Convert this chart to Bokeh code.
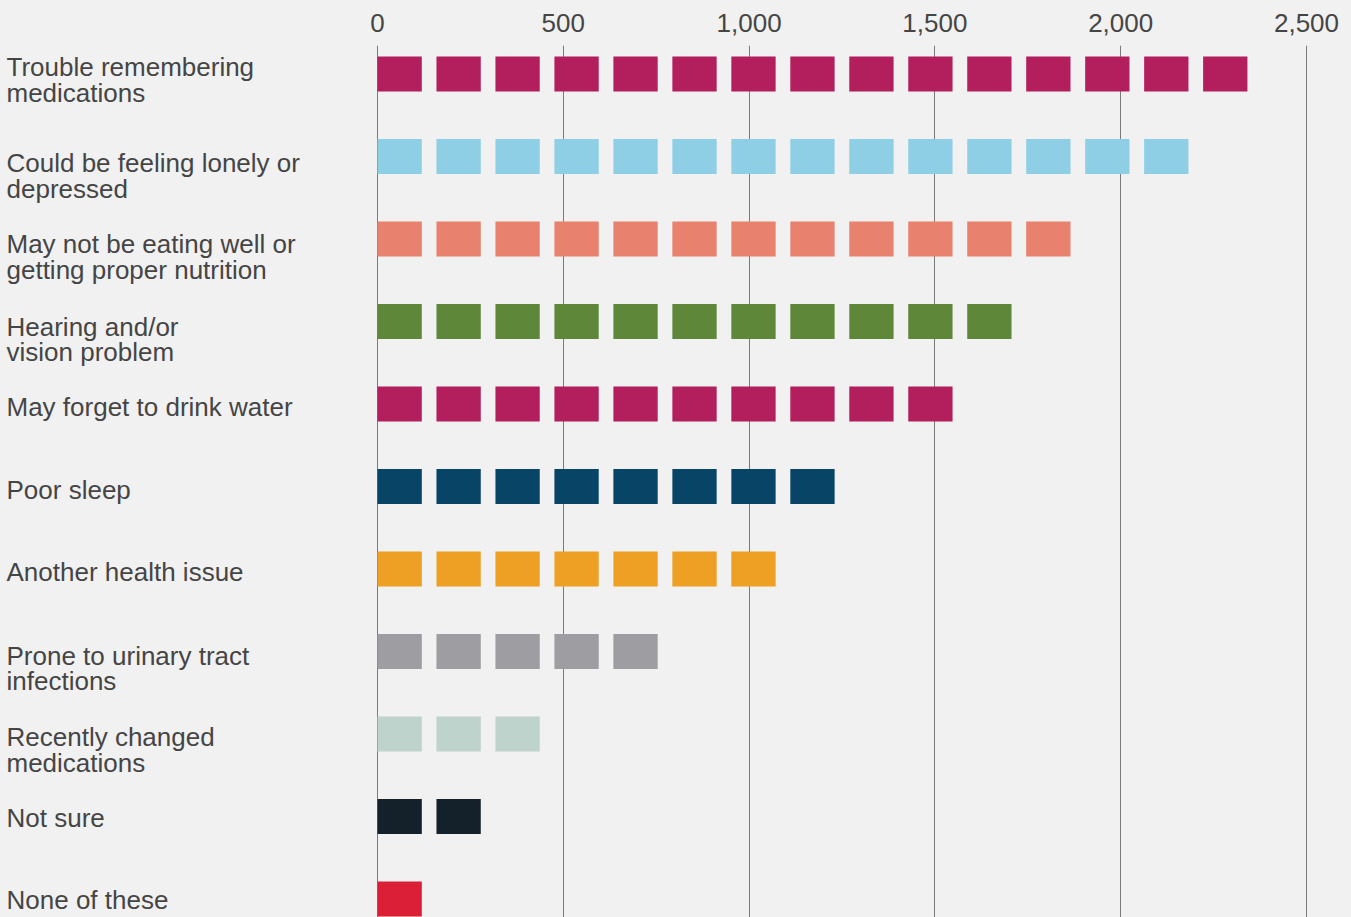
from bokeh.plotting import figure
from bokeh.models import Range1d, FixedTicker, NumeralTickFormatter, ColumnDataSource
from bokeh.core.properties import value
from bokeh.embed import file_html
from bokeh.resources import INLINE

# ---------------- data ----------------
categories = [
    "Trouble remembering medications",
    "Could be feeling lonely or depressed",
    "May not be eating well or getting proper nutrition",
    "Hearing and/or vision problem",
    "May forget to drink water",
    "Poor sleep",
    "Another health issue",
    "Prone to urinary tract infections",
    "Recently changed medications",
    "Not sure",
    "None of these",
]
label_lines = [
    ["Trouble remembering", "medications"],
    ["Could be feeling lonely or", "depressed"],
    ["May not be eating well or", "getting proper nutrition"],
    ["Hearing and/or", "vision problem"],
    ["May forget to drink water"],
    ["Poor sleep"],
    ["Another health issue"],
    ["Prone to urinary tract", "infections"],
    ["Recently changed", "medications"],
    ["Not sure"],
    ["None of these"],
]
icon_counts = [15, 14, 12, 11, 10, 8, 7, 5, 3, 2, 1]
icon_value = 158.7  # respondents represented by one square
colors = [
    "#b21f5c", "#8ecfe6", "#e8826e", "#5e8739", "#b21f5c", "#084466",
    "#eda024", "#9d9da2", "#bdd3cb", "#14212a", "#db1f36",
]
tick_values = [0, 500, 1000, 1500, 2000, 2500]

# ---------------- layout ----------------
W, H = 1351, 917
TOP = 45
BG = "#f1f1f1"
px_per_unit = 929 / 2500.0
x0_px = 377
x_start = -x0_px / px_per_unit
x_end = (W - x0_px) / px_per_unit
row_px = 82.5
first_row_px = 28.5
frame_h = H - TOP
y_top = -first_row_px / row_px
y_bot = (frame_h - first_row_px) / row_px
# per-label baseline position (px below the row centre) for the first line
label_baseline_px = [3.2, 16.7, 14.8, 15, 13.2, 13.3, 13.2, 14, 13.2, 11.7, 10.8]
baseline_fix = -10.0
line_gap_px = 25.8

p = figure(
    width=W, height=H, output_backend="svg", toolbar_location=None,
    x_range=Range1d(x_start, x_end), y_range=Range1d(y_bot, y_top),
    x_axis_location="above", y_axis_location=None,
    min_border_left=0, min_border_right=0, min_border_bottom=0, min_border_top=TOP,
    background_fill_color=BG, border_fill_color=BG,
)
p.outline_line_color = None

# squares
left, right, top, bottom, fill = [], [], [], [], []
half_h = 17.5 / row_px
sq_w = 44.3 / px_per_unit
for r, (n, c) in enumerate(zip(icon_counts, colors)):
    for i in range(n):
        l = i * icon_value
        left.append(l)
        right.append(l + sq_w)
        top.append(r - half_h)
        bottom.append(r + half_h)
        fill.append(c)
src = ColumnDataSource(dict(left=left, right=right, top=top, bottom=bottom, fill=fill))
p.quad(left="left", right="right", top="top", bottom="bottom", fill_color="fill",
       line_color=None, source=src)

# category labels
tx, ty, tt, toff = [], [], [], []
for r, lines in enumerate(label_lines):
    for k, line in enumerate(lines):
        tx.append(x_start)
        ty.append(r)
        tt.append(line)
        toff.append(label_baseline_px[r] + baseline_fix + line_gap_px * k)
lsrc = ColumnDataSource(dict(x=tx, y=ty, text=tt, yoff=toff))
p.text(x="x", y="y", text="text", y_offset="yoff", x_offset=6, source=lsrc,
       text_font=value("Liberation Sans"), text_font_size="26px",
       text_color="#454545", text_align="left", text_baseline="alphabetic")

# axis
ax = p.xaxis[0]
ax.ticker = FixedTicker(ticks=tick_values)
ax.formatter = NumeralTickFormatter(format="0,0")
ax.axis_line_color = None
ax.major_tick_line_color = None
ax.minor_tick_line_color = None
ax.major_tick_out = 0
ax.major_tick_in = 0
ax.major_label_standoff = 14
ax.major_label_text_font = "Liberation Sans"
ax.major_label_text_font_size = "26px"
ax.major_label_text_color = "#454545"

p.xgrid.ticker = FixedTicker(ticks=tick_values)
p.xgrid.grid_line_color = "#7a7a7a"
p.xgrid.grid_line_width = 1
p.ygrid.grid_line_color = None

html = file_html(p, INLINE)
style = "<style>html,body{margin:0;padding:0;background:%s;}</style>" % BG
html = html.replace("</head>", style + "</head>", 1)
open("out.html", "w").write(html)
